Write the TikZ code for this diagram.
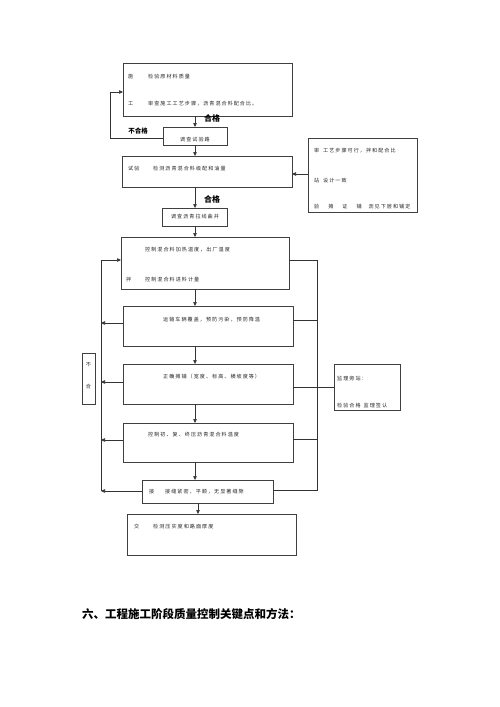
\documentclass[tikz,border=0pt]{standalone}
\usepackage{fontspec}
\newfontfamily\cjk{Noto Sans CJK SC}
\newfontfamily\cjksp[LetterSpace=20]{Noto Sans CJK SC}
\usetikzlibrary{arrows.meta}
\tikzset{
  box/.style={draw=black!75, line width=0.7pt, anchor=north west, inner sep=0pt, outer sep=0pt},
  tx/.style={font=\cjksp\fontsize{5.1}{6}\selectfont, text=black!85, anchor=west, inner sep=0pt},
  txc/.style={font=\cjksp\fontsize{5.1}{6}\selectfont, text=black!85, inner sep=0pt},
  lbl/.style={font=\cjk\bfseries\fontsize{8}{9}\selectfont, inner sep=0pt},
  ln/.style={draw=black!80, line width=0.6pt},
  arr/.style={ln, -{Triangle[length=4pt,width=3.5pt]}}
}
\begin{document}
\begin{tikzpicture}[x=1pt,y=-1pt]
\useasboundingbox (0,0) rectangle (500,707);
% boxes
\node[box, minimum width=169, minimum height=53] (b1) at (123,63) {};
\node[box, minimum width=64, minimum height=18] (b2) at (163,127) {};
\node[box, minimum width=170, minimum height=31] (b3) at (122,156) {};
\node[box, minimum width=109, minimum height=74] (rb) at (308,138) {};
\node[box, minimum width=65, minimum height=18] (b4) at (162,208) {};
\node[box, minimum width=168, minimum height=52] (b5) at (121,237) {};
\node[box, minimum width=170, minimum height=40] (b6) at (123,306) {};
\node[box, minimum width=170, minimum height=40] (b7) at (123,364) {};
\node[box, minimum width=170, minimum height=39] (b8) at (123,423) {};
\node[box, minimum width=131, minimum height=23] (b9) at (142,480) {};
\node[box, minimum width=169, minimum height=41] (b10) at (127,514) {};
\node[box, minimum width=13, minimum height=51] (bu) at (82,353) {};
\node[box, minimum width=66, minimum height=46] (jl) at (334,364) {};
% texts
\node[tx] (t1a) at (128,77) {施};
\node[tx] (t1b) at (148,77) {检验原材料质量};
\node[tx] (t1c) at (128,104) {工};
\node[tx] (t1d) at (148,104) {审查施工工艺步骤，沥青混合料配合比。};
\node[txc] (t2) at (195,140) {调查试验路};
\node[tx] (t3a) at (128,169) {试验};
\node[tx] (t3b) at (153,169) {检测沥青混合料级配和油量};
\node[tx] (tra) at (314,151) {审};
\node[tx] (trb) at (323,151) {工艺步骤可行，拌和配合比};
\node[tx] (trc) at (314,181) {站};
\node[tx] (trd) at (323,181) {设计一致};
\node[tx] (tre) at (314,207) {验\hspace{9pt}摊\hspace{9pt}证\hspace{9pt}铺\hspace{7pt}沥见下层和铺定};
\node[txc] (t4) at (195,217) {调查沥青拉线曲井};
\node[tx] (t5a) at (145,250) {控制混合料加热温度，出厂温度};
\node[tx] (t5b) at (126,280) {拌};
\node[tx] (t5c) at (145,280) {控制混合料进料计量};
\node[tx] (t6) at (163,320) {运输车辆覆盖，预防污染，预防降温};
\node[tx] (t7) at (163,377) {正确摊铺（宽度、标高、横坡度等）};
\node[tx] (t8) at (148,435) {控制初、复、终压沥青混合料温度};
\node[tx] (t9a) at (149,492) {接};
\node[tx] (t9b) at (165,492) {接缝紧密，平顺，无显著缝隙};
\node[tx] (t10a) at (134,527) {交};
\node[tx] (t10b) at (153,527) {检测压实度和路面厚度};
\node[txc] (tua) at (88.5,365) {不};
\node[txc] (tub) at (88.5,387) {合};
\node[tx] (tja) at (337,379) {监理旁站：};
\node[tx] (tjb) at (337,406) {检验合格\hspace{3pt}监理签认};
\node[lbl] (ok1) at (212,118) {合格};
\node[lbl, font=\cjk\bfseries\fontsize{6.5}{7}\selectfont] (nok) at (138,131) {不合格};
\node[lbl] (ok2) at (212,199) {合格};
\node[font=\cjk\bfseries\fontsize{11.5}{12}\selectfont, anchor=west, inner sep=0pt] (hd) at (82,614) {六、工程施工阶段质量控制关键点和方法：};
% coordinates
\coordinate (L1) at (110,138);
\coordinate (L2) at (110,92);
\coordinate (LT) at (101,260);
\coordinate (LB) at (101,491);
\coordinate (RT) at (317,260);
\coordinate (RB) at (317,490);
% main arrows
\draw[arr] (b1.south -| 195,0) -- (b2.north -| 195,0);
\draw[arr] (b2.south -| 195,0) -- (b3.north -| 195,0);
\draw[arr] (b3.south -| 195,0) -- (b4.north -| 195,0);
\draw[arr] (b4.south -| 195,0) -- (b5.north -| 195,0);
\draw[arr] (b5.south -| 195,0) -- (b6.north -| 195,0);
\draw[arr] (b6.south -| 195,0) -- (b7.north -| 195,0);
\draw[arr] (b7.south -| 195,0) -- (b8.north -| 195,0);
\draw[arr] (b8.south -| 195,0) -- (b9.north -| 195,0);
\draw[arr] (b9.south -| 198,0) -- (b10.north -| 198,0);
% first feedback
\draw[arr] (b2.west |- L1) -- (L1) -- (L2) -- (b1.west |- L2);
% right box to b3
\draw[arr] (rb.west |- 0,174) -- (b3.east |- 0,174);
% left loop
\draw[ln] (LT) -- (LB);
\draw[arr] (LT) -- (b5.west |- LT);
\draw[arr] (b6.west |- 0,323) -- (LT |- 0,323);
\draw[arr] (b7.west |- 0,382) -- (LT |- 0,382);
\draw[arr] (b8.west |- 0,440) -- (LT |- 0,440);
\draw[arr] (b9.west |- LB) -- (LB);
% right loop
\draw[ln] (b5.east |- RT) -- (RT) -- (RB) -- (b9.east |- RB);
\draw[ln] (b6.east |- 0,320) -- (RT |- 0,320);
\draw[ln] (b7.east |- 0,387) -- (RT |- 0,387);
\draw[ln] (b8.east |- 0,439) -- (RT |- 0,439);
\draw[ln] (RT |- 0,387) -- (jl.west |- 0,387);
\end{tikzpicture}
\end{document}
